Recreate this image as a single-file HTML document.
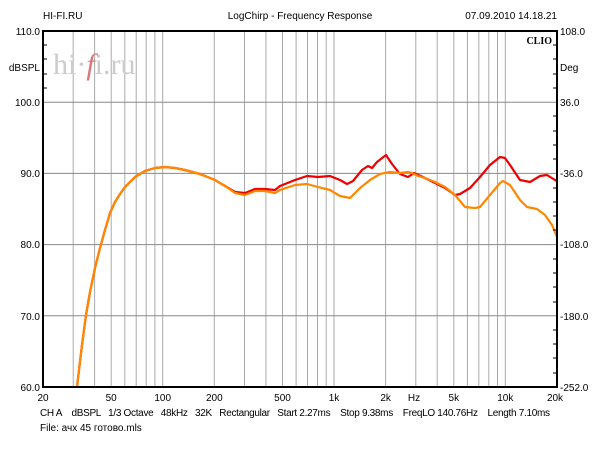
<!DOCTYPE html>
<html><head><meta charset="utf-8"><style>
body{margin:0;background:#fff;width:600px;height:450px;overflow:hidden}
svg{display:block}
text{font-family:"Liberation Sans",sans-serif;font-size:10px;fill:#000}
</style></head><body>
<svg width="600" height="450" viewBox="0 0 600 450">
<g stroke="#aaa" stroke-width="1">
<line x1="73.2" y1="31" x2="73.2" y2="387"/><line x1="94.6" y1="31" x2="94.6" y2="387"/><line x1="111.2" y1="31" x2="111.2" y2="387"/><line x1="124.8" y1="31" x2="124.8" y2="387"/><line x1="136.2" y1="31" x2="136.2" y2="387"/><line x1="146.2" y1="31" x2="146.2" y2="387"/><line x1="154.9" y1="31" x2="154.9" y2="387"/><line x1="162.7" y1="31" x2="162.7" y2="387"/>
<line x1="214.3" y1="31" x2="214.3" y2="387"/><line x1="244.5" y1="31" x2="244.5" y2="387"/><line x1="265.9" y1="31" x2="265.9" y2="387"/><line x1="282.5" y1="31" x2="282.5" y2="387"/><line x1="296.1" y1="31" x2="296.1" y2="387"/><line x1="307.5" y1="31" x2="307.5" y2="387"/><line x1="317.5" y1="31" x2="317.5" y2="387"/><line x1="326.2" y1="31" x2="326.2" y2="387"/><line x1="334" y1="31" x2="334" y2="387"/>
<line x1="385.6" y1="31" x2="385.6" y2="387"/><line x1="415.8" y1="31" x2="415.8" y2="387"/><line x1="437.2" y1="31" x2="437.2" y2="387"/><line x1="453.8" y1="31" x2="453.8" y2="387"/><line x1="467.4" y1="31" x2="467.4" y2="387"/><line x1="478.8" y1="31" x2="478.8" y2="387"/><line x1="488.8" y1="31" x2="488.8" y2="387"/><line x1="497.5" y1="31" x2="497.5" y2="387"/><line x1="505.3" y1="31" x2="505.3" y2="387"/>
</g>
<g stroke="#888" stroke-width="1">
<line x1="43" y1="102.2" x2="557" y2="102.2"/><line x1="43" y1="173.4" x2="557" y2="173.4"/><line x1="43" y1="244.6" x2="557" y2="244.6"/><line x1="43" y1="315.8" x2="557" y2="315.8"/>
</g>
<text x="53" y="74" style="font-family:'Liberation Serif',serif;font-size:30px;fill:#ccc">hi·<tspan style="fill:#d77;font-style:italic">f</tspan>i.ru</text>
<polyline fill="none" stroke="#e00" stroke-width="2.2" stroke-linejoin="round" points="77,387 79,370 82,345 86,315 90,292 95,268 100,248 105,230 110,213 115,202 120,194 125,187 135,177 145,171 155,168 165,167 175,168 185,170 200,174 215,180 225,186 235,192 245,193 255,189 265,189 275,190 280,186 295,180 307,176 318,177 330,176 340,180 347,184 353,181 362,170 368,166 372,168 377,162 386,155 392,164 400,174 408,177 414,173 425,178 435,183 445,188 455,195 460,194 470,188 480,177 490,165 500,157 505,158 510,165 520,180 530,182 540,176 547,175 555,180 557,181"/>
<polyline fill="none" stroke="#f80" stroke-width="2.2" stroke-linejoin="round" points="77,387 79,370 82,345 86,315 90,292 95,268 100,248 105,230 110,213 115,202 120,194 125,187 135,177 145,171 155,168 165,167 175,168 185,170 200,174 215,180 225,186 235,193 245,195 255,191 265,191 275,193 280,190 295,185 307,184 318,187 330,190 340,196 350,198 360,188 370,180 380,174 390,172 400,173 408,172 412,173 418,176 425,178 435,182 445,187 455,195 465,207 475,208 480,207 490,195 500,183 503,181 510,185 520,200 527,207 537,209 545,215 552,225 557,237"/>
<rect x="43" y="31" width="514" height="356" fill="none" stroke="#000" stroke-width="2"/>
<g stroke="#000" stroke-width="1">
<line x1="43" y1="45" x2="47" y2="45"/><line x1="43" y1="59" x2="47" y2="59"/><line x1="43" y1="74" x2="47" y2="74"/><line x1="43" y1="88" x2="47" y2="88"/>
<line x1="553" y1="45" x2="557" y2="45"/><line x1="553" y1="59" x2="557" y2="59"/><line x1="553" y1="74" x2="557" y2="74"/><line x1="553" y1="88" x2="557" y2="88"/>
<line x1="553" y1="116" x2="557" y2="116"/><line x1="553" y1="131" x2="557" y2="131"/><line x1="553" y1="145" x2="557" y2="145"/><line x1="553" y1="159" x2="557" y2="159"/>
<line x1="553" y1="188" x2="557" y2="188"/><line x1="553" y1="202" x2="557" y2="202"/><line x1="553" y1="216" x2="557" y2="216"/><line x1="553" y1="230" x2="557" y2="230"/>
<line x1="553" y1="259" x2="557" y2="259"/><line x1="553" y1="273" x2="557" y2="273"/><line x1="553" y1="287" x2="557" y2="287"/><line x1="553" y1="302" x2="557" y2="302"/>
<line x1="553" y1="330" x2="557" y2="330"/><line x1="553" y1="344" x2="557" y2="344"/><line x1="553" y1="358" x2="557" y2="358"/><line x1="553" y1="373" x2="557" y2="373"/>
</g>
<text x="43" y="19">HI-FI.RU</text>
<text x="300" y="19" text-anchor="middle">LogChirp - Frequency Response</text>
<text x="557" y="19" text-anchor="end">07.09.2010 14.18.21</text>
<text x="552" y="44" text-anchor="end" style="font-family:'Liberation Serif',serif;font-weight:bold;font-size:10px">CLIO</text>
<g text-anchor="end">
<text x="40" y="35">110.0</text><text x="40" y="71">dBSPL</text><text x="40" y="106">100.0</text><text x="40" y="177">90.0</text><text x="40" y="248">80.0</text><text x="40" y="320">70.0</text><text x="40" y="391">60.0</text>
</g>
<g>
<text x="560" y="35">108.0</text><text x="560" y="71">Deg</text><text x="560" y="106">36.0</text><text x="560" y="177">-36.0</text><text x="560" y="248">-108.0</text><text x="560" y="320">-180.0</text><text x="560" y="391">-252.0</text>
</g>
<g text-anchor="middle">
<text x="43" y="401">20</text><text x="111.2" y="401">50</text><text x="162.7" y="401">100</text><text x="214.3" y="401">200</text><text x="282.5" y="401">500</text><text x="334" y="401">1k</text><text x="385.6" y="401">2k</text><text x="414" y="401">Hz</text><text x="453.8" y="401">5k</text><text x="505.3" y="401">10k</text><text x="555" y="401">20k</text>
</g>
<text x="40" y="416" xml:space="preserve" textLength="510" lengthAdjust="spacing">CH A    dBSPL   1/3 Octave   48kHz   32K   Rectangular   Start 2.27ms    Stop 9.38ms    FreqLO 140.76Hz    Length 7.10ms</text>
<text x="40" y="431">File: ачх 45 готово.mls</text>
</svg>
</body></html>
